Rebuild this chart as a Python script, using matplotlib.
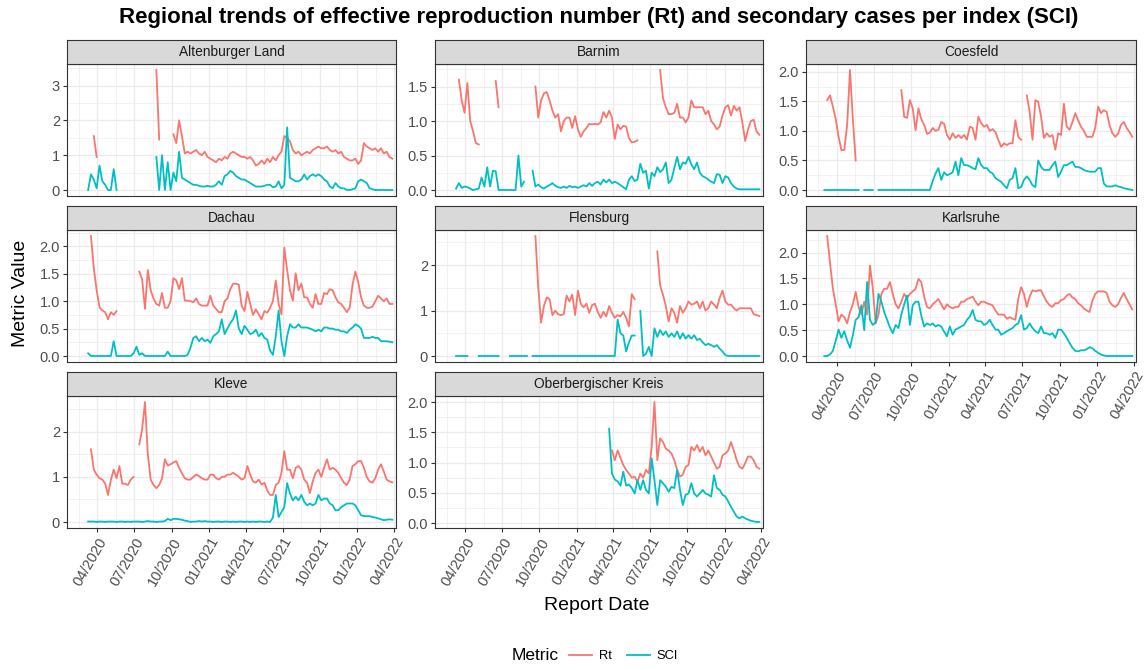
import numpy as np
import pandas as pd
import matplotlib.pyplot as plt
import matplotlib.dates as mdates
from matplotlib.lines import Line2D
from matplotlib.ticker import MultipleLocator, AutoMinorLocator, FormatStrFormatter

plt.rcParams['font.family'] = ['Liberation Sans', 'DejaVu Sans']

n = np.nan

# weekly report dates
dates = pd.date_range('2020-03-02', periods=109, freq='7D')

regions = ['Altenburger Land', 'Barnim', 'Coesfeld', 'Dachau', 'Flensburg',
           'Karlsruhe', 'Kleve', 'Oberbergischer Kreis']

altenburger_rt = [n, n, n, 1.55, 0.95, n, n, n, n, n,
                  n, n, n, n, n, n, n, n, n, n,
                  n, n, n, n, n, 3.45, 1.45, n, n, n,
                  n, 1.6, 1.35, 2.0, 1.55, 1.05, 1.1, 1.05, 1.1, 1.15,
                  1.05, 1.0, 1.1, 0.95, 0.9, 0.85, 0.8, 0.9, 0.85, 0.95,
                  0.9, 1.05, 1.1, 1.05, 1.0, 0.95, 0.95, 0.9, 0.95, 0.85,
                  0.7, 0.75, 0.85, 0.75, 0.9, 0.8, 0.95, 0.85, 1.0, 1.1,
                  1.55, 1.5, 1.4, 1.15, 1.05, 1.1, 1.0, 1.05, 1.1, 1.05,
                  1.15, 1.2, 1.25, 1.2, 1.2, 1.25, 1.15, 1.1, 1.15, 1.05,
                  1.1, 0.95, 0.9, 0.85, 0.85, 0.9, 0.75, 0.85, 1.35, 1.25,
                  1.2, 1.15, 1.2, 1.1, 1.2, 1.05, 1.1, 0.95, 0.9]
altenburger_sci = [n, 0.0, 0.45, 0.3, 0.05, 0.7, 0.25, 0.15, 0.0, 0.0,
                   0.6, 0.0, n, n, n, n, n, n, n, n,
                   n, n, n, n, n, 0.95, 0.0, 1.0, 0.0, 0.8,
                   0.0, 0.5, 0.25, 1.1, 0.35, 0.3, 0.25, 0.2, 0.15, 0.15,
                   0.12, 0.1, 0.1, 0.12, 0.1, 0.1, 0.15, 0.25, 0.15, 0.4,
                   0.45, 0.55, 0.5, 0.4, 0.35, 0.3, 0.3, 0.25, 0.2, 0.15,
                   0.1, 0.1, 0.1, 0.12, 0.15, 0.15, 0.08, 0.1, 0.25, 0.05,
                   0.15, 1.8, 0.35, 0.3, 0.25, 0.25, 0.3, 0.45, 0.3, 0.4,
                   0.45, 0.4, 0.45, 0.4, 0.3, 0.25, 0.1, 0.05, 0.2, 0.1,
                   0.05, 0.05, 0.0, 0.0, 0.02, 0.05, 0.25, 0.3, 0.25, 0.2,
                   0.05, 0.02, 0.0, 0.0, 0.0, 0.0, 0.0, 0.0, 0.0]

barnim_rt = [n, n, 1.6, 1.3, 1.12, 1.55, 1.0, 0.85, 0.68, 0.66,
             n, n, n, n, n, 1.58, 1.2, n, n, n,
             n, n, n, n, n, n, n, n, n, 1.5,
             1.05, 1.3, 1.4, 1.42, 1.3, 1.15, 1.05, 1.1, 0.85, 1.0,
             1.05, 1.05, 0.9, 1.07, 0.88, 0.77, 0.85, 0.9, 0.96, 0.95,
             0.96, 0.95, 0.98, 1.13, 1.05, 1.15, 1.05, 0.74, 0.95, 0.88,
             0.93, 0.92, 0.75, 0.69, 0.7, 0.72, n, n, n, n,
             n, n, n, 1.74, 1.33, 1.2, 1.1, 1.1, 1.12, 1.25,
             1.05, 1.05, 0.98, 1.05, 1.3, 1.2, 1.2, 1.2, 1.2, 1.1,
             1.15, 1.0, 0.95, 0.88, 0.92, 1.08, 1.2, 1.23, 1.08, 1.22,
             1.15, 1.2, 0.98, 0.71, 0.88, 1.0, 1.02, 0.85, 0.8]
barnim_sci = [n, 0.02, 0.1, 0.03, 0.05, 0.04, 0.02, 0.0, 0.01, 0.02,
              0.18, 0.05, 0.33, 0.05, 0.28, 0.27, 0.0, 0.0, 0.0, 0.0,
              0.0, 0.0, 0.0, 0.5, 0.05, 0.12, n, n, 0.28, 0.05,
              0.08, 0.04, 0.02, 0.05, 0.07, 0.1, 0.06, 0.04, 0.03, 0.05,
              0.03, 0.06, 0.04, 0.05, 0.03, 0.05, 0.07, 0.05, 0.1, 0.06,
              0.1, 0.12, 0.08, 0.15, 0.11, 0.15, 0.1, 0.12, 0.1, 0.07,
              0.04, 0.01, 0.15, 0.2, 0.13, 0.15, 0.38, 0.25, 0.28, 0.02,
              0.25, 0.2, 0.33, 0.26, 0.3, 0.4, 0.1, 0.15, 0.32, 0.48,
              0.3, 0.4, 0.38, 0.48, 0.37, 0.3, 0.4, 0.25, 0.2, 0.18,
              0.15, 0.12, 0.1, 0.23, 0.22, 0.1, 0.2, 0.18, 0.1, 0.05,
              0.02, 0.01, 0.01, 0.01, 0.01, 0.01, 0.01, 0.01, 0.01]

coesfeld_rt = [n, 1.52, 1.6, 1.41, 1.2, 0.9, 0.67, 0.68, 1.1, 2.03,
               1.2, 0.5, n, n, n, n, n, n, n, n,
               n, n, n, n, n, n, n, 1.69, 1.24, 1.22,
               1.52, 1.38, 1.01, 1.38, 1.2, 1.1, 0.95, 0.97, 1.05, 1.0,
               1.02, 1.15, 1.12, 0.93, 0.85, 0.96, 0.88, 0.93, 0.88, 0.93,
               0.85, 1.07, 1.05, 0.85, 1.24, 1.13, 1.07, 1.1, 1.0, 1.03,
               0.98, 0.85, 0.73, 0.79, 0.76, 0.79, 0.79, 1.18, 0.9, 0.85,
               n, 1.6, 1.32, 0.85, 1.52, 1.49, 1.24, 0.88, 0.96, 0.9,
               0.93, 0.68, 0.96, 0.93, 1.46, 1.07, 1.02, 1.15, 1.3, 1.18,
               1.07, 1.0, 0.9, 0.9, 0.9, 1.05, 1.41, 1.3, 1.35, 1.32,
               1.1, 0.96, 0.9, 0.95, 1.1, 1.15, 1.05, 0.98, 0.9]
coesfeld_sci = [0.0, 0.0, 0.0, 0.0, 0.0, 0.0, 0.0, 0.0, 0.0, 0.0,
                0.0, 0.0, 0.0, n, 0.0, 0.0, 0.0, 0.0, n, 0.0,
                0.0, 0.0, 0.0, 0.0, 0.0, 0.0, 0.0, 0.0, 0.0, 0.0,
                0.0, 0.0, 0.0, 0.0, 0.0, 0.0, 0.0, 0.0, 0.15, 0.28,
                0.37, 0.17, 0.3, 0.25, 0.27, 0.3, 0.48, 0.25, 0.54, 0.42,
                0.42, 0.4, 0.37, 0.35, 0.54, 0.42, 0.37, 0.37, 0.31, 0.28,
                0.2, 0.17, 0.14, 0.08, 0.03, 0.17, 0.2, 0.37, 0.03, 0.05,
                0.17, 0.23, 0.17, 0.08, 0.05, 0.5, 0.39, 0.34, 0.34, 0.34,
                0.42, 0.48, 0.22, 0.31, 0.42, 0.42, 0.45, 0.48, 0.39, 0.39,
                0.37, 0.34, 0.32, 0.31, 0.31, 0.31, 0.37, 0.37, 0.11, 0.06,
                0.06, 0.06, 0.08, 0.06, 0.05, 0.03, 0.02, 0.01, 0.0]

dachau_rt = [n, n, 2.19, 1.6, 1.2, 0.89, 0.83, 0.8, 0.67, 0.8,
             0.75, 0.82, n, n, n, n, n, n, n, 1.54,
             1.4, 0.86, 1.57, 1.2, 1.05, 0.95, 0.92, 1.15, 0.88, 0.88,
             1.0, 1.42, 1.38, 1.22, 1.42, 1.01, 1.01, 1.0, 0.98, 1.05,
             0.95, 0.92, 0.92, 0.92, 1.1, 0.92, 0.86, 0.8, 0.8, 1.0,
             1.05, 1.22, 1.32, 1.32, 1.3, 0.92, 0.82, 1.17, 0.95, 0.75,
             0.85, 0.76, 0.67, 0.82, 0.79, 0.88, 1.0, 1.38, 0.95, 0.76,
             1.98, 1.57, 1.2, 1.01, 1.51, 1.2, 1.32, 1.07, 1.07, 0.95,
             0.88, 1.13, 0.95, 0.95, 1.15, 1.13, 1.22, 1.2, 1.07, 0.98,
             0.95, 0.88, 0.8, 0.88, 1.3, 1.54, 1.35, 1.07, 0.92, 0.88,
             0.88, 0.9, 1.0, 1.1, 1.05, 1.0, 1.05, 0.95, 0.95]
dachau_sci = [n, 0.05, 0.0, 0.0, 0.0, 0.0, 0.0, 0.0, 0.0, 0.0,
              0.27, 0.0, 0.0, 0.0, 0.0, 0.0, 0.0, 0.05, 0.17, 0.02,
              0.05, 0.0, 0.0, 0.0, 0.0, 0.0, 0.0, 0.0, 0.0, 0.08,
              0.0, 0.0, 0.0, 0.0, 0.0, 0.0, 0.02, 0.15, 0.33, 0.36,
              0.27, 0.33, 0.27, 0.3, 0.24, 0.36, 0.4, 0.45, 0.67, 0.4,
              0.5, 0.6, 0.67, 0.83, 0.5, 0.4, 0.55, 0.48, 0.4, 0.42,
              0.48, 0.36, 0.42, 0.33, 0.3, 0.1, 0.02, 0.36, 0.83, 0.27,
              0.0, 0.36, 0.58, 0.52, 0.52, 0.58, 0.52, 0.52, 0.52, 0.5,
              0.48, 0.45, 0.48, 0.45, 0.52, 0.52, 0.5, 0.5, 0.48, 0.48,
              0.45, 0.45, 0.42, 0.48, 0.52, 0.58, 0.55, 0.5, 0.33, 0.33,
              0.33, 0.35, 0.33, 0.33, 0.27, 0.27, 0.27, 0.26, 0.25]

flensburg_rt = [n, n, n, n, n, n, n, n, n, n,
                n, n, n, n, n, n, n, n, n, n,
                n, n, n, n, n, n, n, n, n, 2.64,
                1.5, 0.73, 1.1, 1.29, 1.25, 0.9, 1.0, 0.92, 0.9, 0.92,
                1.33, 1.2, 1.35, 0.9, 1.44, 1.15, 1.07, 1.15, 0.95, 1.12,
                1.15, 0.97, 0.84, 0.97, 0.87, 1.1, 0.95, 0.84, 0.9, 0.87,
                0.97, 0.84, 0.65, 1.36, 1.25, n, n, n, n, n,
                n, n, 2.3, 1.55, 1.35, 1.1, 0.76, 1.05, 0.95, 0.73,
                1.1, 0.95, 1.05, 1.2, 1.13, 1.15, 1.2, 1.05, 1.2, 1.0,
                1.05, 1.2, 1.13, 1.05, 1.28, 1.44, 1.2, 1.13, 1.13, 1.05,
                1.0, 1.05, 1.05, 1.05, 1.05, 1.05, 0.92, 0.9, 0.88]
flensburg_sci = [n, 0.0, 0.0, 0.0, 0.0, 0.0, n, n, n, 0.0,
                 0.0, 0.0, 0.0, 0.0, 0.0, 0.0, 0.0, n, n, n,
                 0.0, 0.0, 0.0, 0.0, 0.0, 0.0, 0.0, n, 0.0, 0.0,
                 0.0, 0.0, 0.0, 0.0, 0.0, 0.0, 0.0, 0.0, 0.0, 0.0,
                 0.0, 0.0, 0.0, 0.0, 0.0, 0.0, 0.0, 0.0, 0.0, 0.0,
                 0.0, 0.0, 0.0, 0.0, 0.0, 0.0, 0.0, 0.0, 0.8, 0.5,
                 0.45, 0.1, 0.3, 0.45, 0.45, n, 0.99, 0.0, 0.05, 0.2,
                 0.0, 0.61, 0.42, 0.57, 0.46, 0.54, 0.42, 0.5, 0.42, 0.54,
                 0.38, 0.5, 0.38, 0.46, 0.38, 0.46, 0.35, 0.38, 0.3, 0.24,
                 0.27, 0.24, 0.2, 0.24, 0.16, 0.1, 0.02, 0.0, 0.0, 0.0,
                 0.0, 0.0, 0.0, 0.0, 0.0, 0.0, 0.0, 0.0, 0.0]

karlsruhe_rt = [n, 2.32, 1.8, 1.3, 1.0, 0.67, 0.8, 0.75, 0.63, 0.85,
                1.0, 1.24, 0.95, 0.8, 1.05, 0.8, 1.75, 1.3, 0.63, 0.8,
                1.2, 1.3, 1.3, 1.43, 1.2, 1.0, 0.92, 1.05, 1.2, 1.12,
                1.2, 1.25, 1.3, 1.49, 1.43, 1.15, 0.95, 0.92, 1.0, 1.05,
                1.1, 1.0, 0.9, 1.0, 0.95, 0.92, 0.95, 0.95, 1.05, 1.05,
                1.1, 1.12, 1.15, 1.05, 0.98, 1.05, 1.05, 1.02, 1.0, 0.98,
                0.88, 0.8, 0.8, 0.8, 0.72, 0.75, 0.72, 0.7, 1.11, 1.33,
                1.2, 0.95, 1.15, 1.27, 1.25, 1.27, 1.27, 1.15, 1.05, 0.98,
                0.95, 1.02, 1.02, 1.08, 1.1, 1.17, 1.2, 1.13, 1.1, 1.02,
                0.98, 0.92, 0.88, 0.85, 1.07, 1.2, 1.25, 1.25, 1.25, 1.22,
                1.05, 0.98, 0.95, 1.0, 1.12, 1.22, 1.1, 1.0, 0.9]
karlsruhe_sci = [0.0, 0.0, 0.03, 0.1, 0.3, 0.51, 0.35, 0.48, 0.3, 0.16,
                 0.4, 0.7, 0.75, 0.98, 0.5, 1.43, 0.7, 0.6, 0.65, 1.2,
                 1.05, 0.85, 0.7, 0.55, 0.44, 0.6, 0.54, 0.8, 1.0, 1.17,
                 0.6, 0.98, 1.05, 1.05, 0.78, 0.57, 0.63, 0.6, 0.63, 0.57,
                 0.6, 0.57, 0.47, 0.38, 0.57, 0.41, 0.51, 0.54, 0.57, 0.6,
                 0.7, 0.76, 0.89, 0.7, 0.67, 0.67, 0.6, 0.63, 0.7, 0.6,
                 0.51, 0.51, 0.41, 0.44, 0.48, 0.51, 0.54, 0.6, 0.63, 0.79,
                 0.51, 0.54, 0.63, 0.54, 0.48, 0.44, 0.57, 0.44, 0.44, 0.41,
                 0.44, 0.35, 0.51, 0.51, 0.44, 0.35, 0.25, 0.16, 0.1, 0.09,
                 0.11, 0.11, 0.13, 0.17, 0.15, 0.1, 0.06, 0.03, 0.01, 0.0,
                 0.0, 0.0, 0.0, 0.0, 0.0, 0.0, 0.0, 0.0, 0.0]

kleve_rt = [n, n, 1.61, 1.16, 1.05, 0.97, 0.94, 0.85, 0.6, 0.93,
            1.16, 0.97, 1.24, 0.85, 0.85, 0.82, 0.94, 1.0, n, 1.72,
            2.06, 2.66, 1.5, 0.94, 0.82, 0.75, 0.82, 0.97, 1.39, 1.25,
            1.28, 1.32, 1.35, 1.2, 1.08, 0.97, 0.94, 0.94, 1.0, 1.05,
            1.02, 0.97, 0.94, 0.94, 1.05, 1.05, 0.97, 0.94, 1.0, 1.0,
            1.05, 1.05, 1.09, 1.05, 1.0, 0.94, 0.97, 1.24, 1.05, 0.9,
            0.87, 0.94, 0.83, 0.87, 0.7, 0.6, 0.6, 0.82, 0.87, 1.09,
            1.57, 1.16, 1.16, 0.97, 1.2, 1.24, 1.16, 0.94, 0.87, 0.64,
            0.9, 1.09, 1.16, 1.0, 1.2, 1.39, 1.16, 1.2, 1.16, 1.09,
            0.97, 0.87, 0.82, 0.94, 1.24, 1.28, 1.35, 1.35, 1.2, 1.0,
            0.9, 0.87, 0.97, 1.16, 1.28, 1.12, 0.94, 0.9, 0.88]
kleve_sci = [n, 0.01, 0.01, 0.01, 0.0, 0.01, 0.01, 0.0, 0.01, 0.01,
             0.01, 0.0, 0.01, 0.01, 0.0, 0.01, 0.0, 0.01, 0.01, 0.01,
             0.0, 0.01, 0.02, 0.01, 0.01, 0.0, 0.01, 0.01, 0.02, 0.07,
             0.04, 0.07, 0.07, 0.06, 0.05, 0.03, 0.02, 0.0, 0.01, 0.01,
             0.02, 0.01, 0.02, 0.01, 0.01, 0.0, 0.01, 0.01, 0.0, 0.01,
             0.01, 0.0, 0.01, 0.0, 0.01, 0.01, 0.0, 0.01, 0.0, 0.01,
             0.0, 0.01, 0.01, 0.0, 0.01, 0.0, 0.1, 0.6, 0.11, 0.22,
             0.33, 0.86, 0.63, 0.48, 0.56, 0.48, 0.6, 0.45, 0.37, 0.41,
             0.37, 0.41, 0.6, 0.48, 0.52, 0.52, 0.41, 0.37, 0.26, 0.26,
             0.33, 0.37, 0.41, 0.41, 0.41, 0.37, 0.26, 0.15, 0.13, 0.13,
             0.13, 0.11, 0.1, 0.08, 0.06, 0.04, 0.05, 0.06, 0.05]

oberberg_rt = [n] * 50 + [
               n, n, n, n, n, n, 1.2, 1.04, 1.2, 1.08,
               0.96, 0.88, 0.82, 0.75, 0.77, 0.68, 0.82, 0.75, 0.88, 0.82,
               1.26, 2.0, 1.04, 1.4, 1.34, 1.23, 1.2, 1.15, 1.04, 0.88,
               0.77, 0.8, 0.93, 0.96, 1.26, 1.2, 1.29, 1.18, 1.26, 1.12,
               1.2, 1.1, 1.0, 0.9, 0.93, 1.12, 1.15, 1.2, 1.34, 1.2,
               1.04, 0.93, 0.9, 0.99, 1.1, 1.1, 1.04, 0.93, 0.9]
oberberg_sci = [n] * 50 + [
                n, n, n, n, n, 1.56, 0.82, 0.72, 0.69, 0.62,
                0.85, 0.62, 0.64, 0.58, 0.49, 0.71, 0.55, 0.71, 0.55, 0.49,
                1.07, 0.71, 0.3, 0.71, 0.66, 0.6, 0.52, 0.6, 0.58, 0.88,
                0.55, 0.3, 0.47, 0.49, 0.66, 0.49, 0.44, 0.49, 0.55, 0.49,
                0.47, 0.44, 0.79, 0.58, 0.55, 0.47, 0.44, 0.36, 0.27, 0.19,
                0.11, 0.08, 0.11, 0.08, 0.06, 0.04, 0.03, 0.02, 0.02]

rt_values = [altenburger_rt, barnim_rt, coesfeld_rt, dachau_rt, flensburg_rt,
             karlsruhe_rt, kleve_rt, oberberg_rt]
sci_values = [altenburger_sci, barnim_sci, coesfeld_sci, dachau_sci, flensburg_sci,
              karlsruhe_sci, kleve_sci, oberberg_sci]
y_steps = [1, 0.5, 0.5, 0.5, 1, 0.5, 1, 0.5]

RT_COLOR = '#F8766D'
SCI_COLOR = '#00BFC4'

# --- layout (pixel boxes, measured from the top-left) ---
W, H = 1144, 670
fig = plt.figure(figsize=(W / 100, H / 100), dpi=100)


def box(x0, y0, x1, y1):
    return [x0 / W, 1 - y1 / H, (x1 - x0) / W, (y1 - y0) / H]


col_x = [(67, 396), (435, 763), (806, 1136)]
row_y = [(40, 64, 196), (206, 230, 362), (372, 396, 528)]
bottom_panels = [5, 6, 7]

major = pd.date_range('2020-04-01', '2022-04-01', freq='QS-JAN')
mnum = mdates.date2num(major)
minor = np.concatenate([[mnum[0] - (mnum[1] - mnum[0]) / 2], (mnum[:-1] + mnum[1:]) / 2])
xlim = (pd.Timestamp('2020-01-17'), pd.Timestamp('2022-04-06'))

for k, region in enumerate(regions):
    r, c = divmod(k, 3)
    x0, x1 = col_x[c]
    s0, p0, p1 = row_y[r]

    ax = fig.add_axes(box(x0, p0, x1, p1))
    ax.plot(dates, rt_values[k], color=RT_COLOR, lw=1.3)
    ax.plot(dates, sci_values[k], color=SCI_COLOR, lw=1.3)

    ax.set_xlim(xlim)
    ax.set_xticks(major)
    ax.set_xticks(minor, minor=True)
    ax.xaxis.set_major_formatter(mdates.DateFormatter('%m/%Y'))
    ax.yaxis.set_major_locator(MultipleLocator(y_steps[k]))
    ax.yaxis.set_minor_locator(AutoMinorLocator(2))
    ax.yaxis.set_major_formatter(FormatStrFormatter('%d' if y_steps[k] == 1 else '%.1f'))

    ax.grid(which='major', color='#EBEBEB', lw=0.9)
    ax.grid(which='minor', color='#EBEBEB', lw=0.45)
    ax.set_axisbelow(True)
    for sp in ax.spines.values():
        sp.set_color('#333333')
        sp.set_linewidth(0.8)

    ax.tick_params(which='major', color='#333333', length=3, width=0.8,
                   labelsize=10.5, labelcolor='#4D4D4D', pad=2)
    ax.tick_params(which='minor', length=0)
    if k in bottom_panels:
        plt.setp(ax.get_xticklabels(), rotation=60, ha='right', rotation_mode='anchor')
    else:
        ax.tick_params(axis='x', which='both', bottom=False, labelbottom=False)

    # facet strip
    sax = fig.add_axes(box(x0, s0, x1, p0))
    sax.set_facecolor('#D9D9D9')
    sax.set_xticks([])
    sax.set_yticks([])
    for sp in sax.spines.values():
        sp.set_color('#333333')
        sp.set_linewidth(0.8)
    sax.text(0.5, 0.5, region, ha='center', va='center', fontsize=9.9, color='#1A1A1A',
             transform=sax.transAxes)

fig.text(599 / W, 1 - 18 / H, 'Regional trends of effective reproduction number (Rt) and '
         'secondary cases per index (SCI)', ha='center', va='center',
         fontsize=16, fontweight='bold')
fig.text(597 / W, 1 - 606 / H, 'Report Date', ha='center', va='center', fontsize=14)
fig.text(21 / W, 1 - 293 / H, 'Metric Value', ha='center', va='center', fontsize=14,
         rotation=90)

# legend
fig.text(512 / W, 1 - 656 / H, 'Metric', ha='left', va='center', fontsize=12.5)
handles = [Line2D([], [], color=RT_COLOR, lw=1.3), Line2D([], [], color=SCI_COLOR, lw=1.3)]
fig.legend(handles, ['Rt', 'SCI'], loc='center left', bbox_to_anchor=(569 / W, 1 - 656 / H),
           ncol=2, frameon=False, fontsize=9.3, handlelength=1.8, handletextpad=0.5,
           columnspacing=1.2, borderpad=0, borderaxespad=0)

fig.savefig('out.png', dpi=100)
